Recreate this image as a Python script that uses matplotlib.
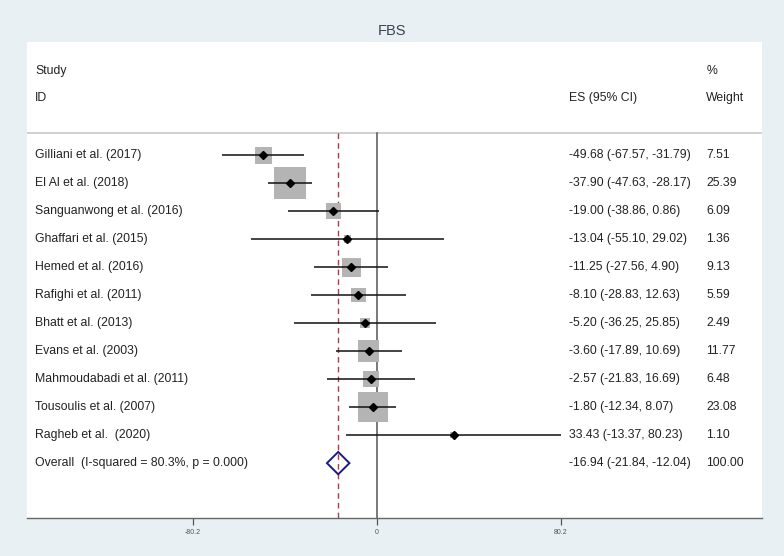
import numpy as np
import matplotlib.pyplot as plt
from matplotlib.patches import Polygon

plt.rcParams['font.family'] = ['Liberation Sans', 'DejaVu Sans']

# datos del forest plot
studies = ['Gilliani et al. (2017)', 'El Al et al. (2018)', 'Sanguanwong et al. (2016)',
           'Ghaffari et al. (2015)', 'Hemed et al. (2016)', 'Rafighi et al. (2011)',
           'Bhatt et al. (2013)', 'Evans et al. (2003)', 'Mahmoudabadi et al. (2011)',
           'Tousoulis et al. (2007)', 'Ragheb et al.  (2020)']
es = [-49.68, -37.90, -19.00, -13.04, -11.25, -8.10, -5.20, -3.60, -2.57, -1.80, 33.43]
lo = [-67.57, -47.63, -38.86, -55.10, -27.56, -28.83, -36.25, -17.89, -21.83, -12.34, -13.37]
hi = [-31.79, -28.17, 0.86, 29.02, 4.90, 12.63, 25.85, 10.69, 16.69, 8.07, 80.23]
weights = [7.51, 25.39, 6.09, 1.36, 9.13, 5.59, 2.49, 11.77, 6.48, 23.08, 1.10]

overall_label = 'Overall  (I-squared = 80.3%, p = 0.000)'
overall_es, overall_lo, overall_hi = -16.94, -21.84, -12.04
overall_weight = 100.00

xticks = [-80.2, 0, 80.2]
xticklabels = ['-80.2', '0', '80.2']

bg = '#e8f0f3'
txt = '#222222'

fig = plt.figure(figsize=(7.84, 5.56), dpi=100, facecolor=bg)
ax = fig.add_axes([27/784, 38/556, 735/784, 476/556])
ax.set_facecolor('white')

n = len(studies)
rows = np.arange(n)
ax.set_xlim(-152.6, 167.8)
ax.set_ylim(n + 1.96, -4.04)

top = -0.786
# linea horizontal superior y verticales
ax.axhline(top, color='#c8c8c8', lw=1.2)
ax.plot([0, 0], [top, n + 1.96], color='#555555', lw=1.1)
ax.plot([overall_es, overall_es], [top, n + 1.96], color='#b03a48', lw=1.0, ls=(0, (4, 3)))

# cajas de peso
ax.scatter(es, rows, s=np.array(weights) * 20, marker='s', color='#b4b4b4', zorder=2, linewidths=0)
# intervalos
ax.hlines(rows, lo, hi, color='#111111', lw=1.1, zorder=3)
ax.plot(es, rows, 'D', color='black', ms=3.6, zorder=4)

# diamante global
yo = n
dh = 0.4
ax.add_patch(Polygon([[overall_lo, yo], [overall_es, yo - dh], [overall_hi, yo], [overall_es, yo + dh]],
                     closed=True, fill=False, edgecolor='#1c1c80', lw=1.4, zorder=5))

tr = ax.get_yaxis_transform()
fs = 8.8
ax.text(0.011, -3.0, 'Study', transform=tr, fontsize=fs, color=txt, va='center')
ax.text(0.011, -2.04, 'ID', transform=tr, fontsize=fs, color=txt, va='center')
ax.text(0.737, -2.04, 'ES (95% CI)', transform=tr, fontsize=fs, color=txt, va='center')
ax.text(0.924, -3.0, '%', transform=tr, fontsize=fs, color=txt, va='center')
ax.text(0.924, -2.04, 'Weight', transform=tr, fontsize=fs, color=txt, va='center')

for i in range(n):
    ax.text(0.011, i, studies[i], transform=tr, fontsize=fs, color=txt, va='center')
    ax.text(0.737, i, f'{es[i]:.2f} ({lo[i]:.2f}, {hi[i]:.2f})', transform=tr, fontsize=fs, color=txt, va='center')
    ax.text(0.924, i, f'{weights[i]:.2f}', transform=tr, fontsize=fs, color=txt, va='center')
ax.text(0.011, yo, overall_label, transform=tr, fontsize=fs, color=txt, va='center')
ax.text(0.737, yo, f'{overall_es:.2f} ({overall_lo:.2f}, {overall_hi:.2f})', transform=tr, fontsize=fs, color=txt, va='center')
ax.text(0.924, yo, f'{overall_weight:.2f}', transform=tr, fontsize=fs, color=txt, va='center')

ax.set_xticks(xticks)
ax.set_xticklabels(xticklabels, fontsize=5, color='#555555')
ax.tick_params(axis='x', length=5, width=0.9, color='#555555', pad=3)
ax.set_yticks([])
for s in ['top', 'left', 'right']:
    ax.spines[s].set_visible(False)
ax.spines['bottom'].set_color('#666666')
ax.spines['bottom'].set_linewidth(1.0)

fig.text(0.5, 1 - 31/556, 'FBS', ha='center', va='center', fontsize=10.5, color='#3a4450')

fig.savefig('out.png', dpi=100, facecolor=bg)
